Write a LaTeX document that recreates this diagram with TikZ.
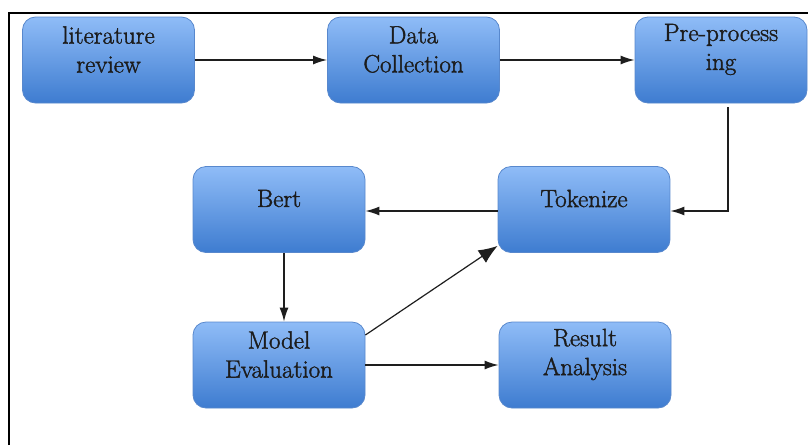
\documentclass[tikz,border=0pt]{standalone}
\usepackage{fontspec}
\newfontfamily\boxfont{Latin Modern Roman}[FakeBold=1.5]
\usetikzlibrary{arrows.meta}
\definecolor{boxtop}{RGB}{143,188,247}
\definecolor{boxbot}{RGB}{62,124,208}
\definecolor{boxedge}{RGB}{88,136,205}
\definecolor{txt}{RGB}{28,28,28}
\definecolor{ln}{RGB}{30,30,30}
\begin{document}
\begin{tikzpicture}[x=1pt,y=-1pt,
  stepbox/.style={rectangle, rounded corners=13pt, minimum width=172pt, minimum height=86pt,
    top color=boxtop, bottom color=boxbot, draw=boxedge, line width=0.8pt, inner sep=0pt},
  steptext/.style={text=txt, align=center, font=\boxfont\fontsize{25}{29}\selectfont, inner sep=0pt},
  conn/.style={draw=ln, line width=1.5pt, -{Latex[length=14pt,width=9pt]}},
  bigconn/.style={draw=ln, line width=1.2pt, -{Latex[length=19pt,width=15pt]}}
]
\useasboundingbox (0,0) rectangle (808,445);
\fill[white] (0,0) rectangle (808,445);
\draw[line width=2pt, black] (9,445) -- (9,13) -- (808,13);

\node[stepbox] (lit) at (108.5,60) {};
\node[stepbox] (data) at (413.5,60) {};
\node[stepbox] (pre) at (721,60) {};
\node[stepbox] (tok) at (584,209.5) {};
\node[stepbox] (bert) at (279,209.5) {};
\node[stepbox] (model) at (279,365) {};
\node[stepbox] (result) at (585,365) {};

\node[steptext] (litT) at ([yshift=10.5pt]lit.center) {literature\\review};
\node[steptext] (dataT) at ([yshift=10.5pt]data.center) {Data\\Collection};
\node[steptext] (preT) at ([yshift=10.5pt]pre.center) {Pre-process\\ing};
\node[steptext] (tokT) at ([yshift=11pt]tok.center) {Tokenize};
\node[steptext] (bertT) at ([yshift=11pt]bert.center) {Bert};
\node[steptext] (modelT) at ([yshift=10.5pt]model.center) {Model\\Evaluation};
\node[steptext] (resultT) at ([yshift=10.5pt]result.center) {Result\\Analysis};

\draw[conn] (lit.east) -- (data.west);
\draw[conn] (data.east) -- (pre.west);
\draw[conn] ([xshift=7pt,yshift=-4pt]pre.south) |- ([yshift=-1.5pt]tok.east);
\draw[conn] ([yshift=-1.5pt]tok.west) -- ([yshift=-1.5pt]bert.east);
\draw[conn] ([xshift=5pt]bert.south) -- ([xshift=5pt]model.north);
\draw[bigconn] ([yshift=30pt]model.east) -- ([yshift=7pt]tok.south west);
\draw[conn] (model.east) -- (result.west);
\end{tikzpicture}
\end{document}
